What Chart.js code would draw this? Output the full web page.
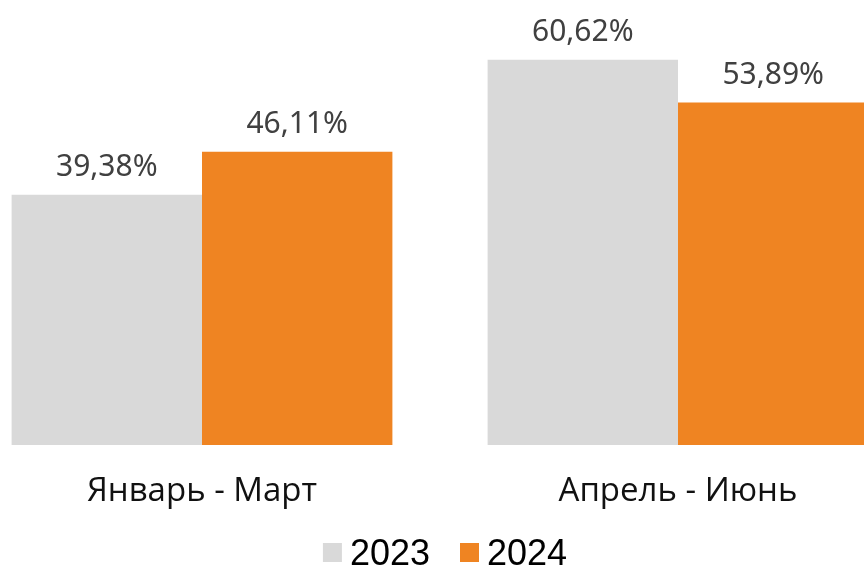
<!DOCTYPE html>
<html>
<head>
<meta charset="utf-8">
<script src="https://cdn.jsdelivr.net/npm/chart.js@4.4.1/dist/chart.umd.min.js"></script>
<style>
  html, body { margin: 0; padding: 0; background: #fff; overflow: hidden; width: 864px; height: 567px; }
  #wrap { position: absolute; left: -36px; top: 0; width: 952px; height: 567px; }
</style>
</head>
<body>
<div id="wrap"><canvas id="c"></canvas></div>
<script>
const categories = ['Январь - Март', 'Апрель - Июнь'];
const seriesNames = ['2023', '2024'];
const values2023 = [39.38, 60.62];
const values2024 = [46.11, 53.89];
const seriesColors = ['#d9d9d9', '#ef8422'];

const valueLabels = {
  id: 'valueLabels',
  afterDatasetsDraw(chart) {
    const ctx = chart.ctx;
    ctx.save();
    ctx.font = '30px "Noto Sans"';
    ctx.fillStyle = '#404040';
    ctx.textAlign = 'center';
    ctx.textBaseline = 'bottom';
    chart.data.datasets.forEach((ds, i) => {
      const meta = chart.getDatasetMeta(i);
      meta.data.forEach((el, j) => {
        const txt = ds.data[j].toFixed(2).replace('.', ',') + '%';
        ctx.fillText(txt, el.x, el.y - 12);
      });
    });
    ctx.restore();
  }
};

// Bottom legend drawn from the dataset labels/colours
const bottomLegend = {
  id: 'bottomLegend',
  afterDraw(chart) {
    const ctx = chart.ctx;
    ctx.save();
    ctx.font = '36px "Liberation Sans"';
    ctx.textBaseline = 'alphabetic';
    ctx.textAlign = 'left';
    const box = 19, gapText = 8, gapItem = 30;
    const items = chart.data.datasets.map(ds => ({ text: ds.label, color: ds.backgroundColor, w: ctx.measureText(ds.label).width }));
    let total = 0;
    items.forEach((it, i) => { total += box + gapText + it.w + (i ? gapItem : 0); });
    const centerX = 36 + 445;
    let x = centerX - total / 2;
    const boxTop = 543, baseY = 565;
    items.forEach((it) => {
      ctx.fillStyle = it.color;
      ctx.fillRect(x, boxTop, box, box);
      x += box + gapText;
      ctx.fillStyle = '#000';
      ctx.fillText(it.text, x, baseY);
      x += it.w + gapItem;
    });
    ctx.restore();
  }
};

new Chart(document.getElementById('c'), {
  type: 'bar',
  data: {
    labels: categories,
    datasets: [
      { label: seriesNames[0], data: values2023, backgroundColor: seriesColors[0] },
      { label: seriesNames[1], data: values2024, backgroundColor: seriesColors[1] }
    ]
  },
  options: {
    responsive: true,
    maintainAspectRatio: false,
    animation: false,
    layout: { padding: 0 },
    datasets: { bar: { categoryPercentage: 0.8, barPercentage: 1.0 } },
    scales: {
      y: { display: false, min: 0, max: 70 },
      x: {
        grid: { display: false, drawTicks: false },
        border: { display: false },
        ticks: { color: '#111', font: { family: '"Open Sans"', size: 33 }, padding: 27 },
        afterFit(s) { s.height = 122; }
      }
    },
    plugins: {
      legend: { display: false },
      tooltip: { enabled: false }
    }
  },
  plugins: [valueLabels, bottomLegend]
});
</script>
</body>
</html>
